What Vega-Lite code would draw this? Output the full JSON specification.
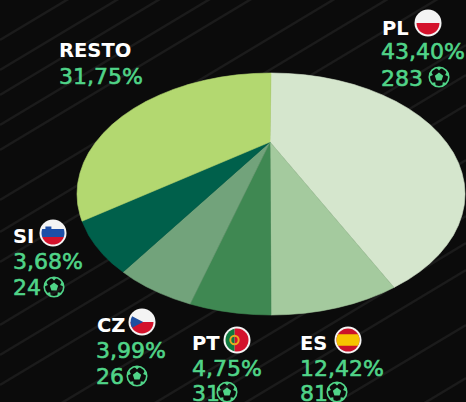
{
"$schema":"https://vega.github.io/schema/vega-lite/v6.json",
"width":466,"height":402,"padding":0,"autosize":"none",
"background":"#0b0b0b",
"config":{"view":{"stroke":null}},
"datasets":{
"streaks":[
{"x":0,"y":40,"x2":120,"y2":-32},{"x":0,"y":70,"x2":200,"y2":-50},{"x":0,"y":95,"x2":300,"y2":-85},{"x":0,"y":125,"x2":380,"y2":-103},{"x":0,"y":150,"x2":466,"y2":-130},{"x":0,"y":200,"x2":466,"y2":-80},{"x":0,"y":232,"x2":466,"y2":-48},{"x":0,"y":262,"x2":466,"y2":-18},{"x":0,"y":325,"x2":466,"y2":45},{"x":0,"y":355,"x2":466,"y2":75},{"x":0,"y":385,"x2":466,"y2":105},{"x":0,"y":440,"x2":466,"y2":160},{"x":60,"y":460,"x2":466,"y2":216},{"x":105,"y":460,"x2":466,"y2":243},{"x":150,"y":460,"x2":466,"y2":270},{"x":240,"y":460,"x2":466,"y2":325},{"x":330,"y":460,"x2":466,"y2":378}
],
"slices":[
{"slice":"PL","o":0,"x":270,"y":142},{"slice":"PL","o":1,"x":271,"y":73},{"slice":"PL","o":1.5,"x":287.9,"y":73.5},{"slice":"PL","o":2,"x":304.7,"y":74.8},{"slice":"PL","o":2.5,"x":321.2,"y":77.1},{"slice":"PL","o":3,"x":337.4,"y":80.3},{"slice":"PL","o":3.5,"x":353,"y":84.3},{"slice":"PL","o":4,"x":368,"y":89.2},{"slice":"PL","o":4.5,"x":382.3,"y":94.9},{"slice":"PL","o":5,"x":395.7,"y":101.3},{"slice":"PL","o":5.5,"x":408.2,"y":108.4},{"slice":"PL","o":6,"x":419.6,"y":116.2},{"slice":"PL","o":6.5,"x":429.9,"y":124.6},{"slice":"PL","o":7,"x":439,"y":133.5},{"slice":"PL","o":7.5,"x":446.8,"y":142.9},{"slice":"PL","o":8,"x":453.3,"y":152.6},{"slice":"PL","o":8.5,"x":458.4,"y":162.7},{"slice":"PL","o":9,"x":462,"y":173},{"slice":"PL","o":9.5,"x":464.3,"y":183.4},{"slice":"PL","o":10,"x":465,"y":194},{"slice":"PL","o":10.5,"x":464.3,"y":204.6},{"slice":"PL","o":11,"x":462,"y":215},{"slice":"PL","o":11.5,"x":458.4,"y":225.3},{"slice":"PL","o":12,"x":453.3,"y":235.4},{"slice":"PL","o":12.5,"x":446.8,"y":245.1},{"slice":"PL","o":13,"x":439,"y":254.5},{"slice":"PL","o":13.5,"x":429.9,"y":263.4},{"slice":"PL","o":14,"x":419.6,"y":271.8},{"slice":"PL","o":14.5,"x":408.2,"y":279.6},{"slice":"PL","o":15,"x":394,"y":287.4},{"slice":"PL","o":16,"x":270,"y":142},
{"slice":"ES","o":0,"x":270,"y":142},{"slice":"ES","o":1,"x":394,"y":287.4},{"slice":"ES","o":1.5,"x":382.3,"y":293.1},{"slice":"ES","o":2,"x":368,"y":298.8},{"slice":"ES","o":2.5,"x":353,"y":303.7},{"slice":"ES","o":3,"x":337.4,"y":307.7},{"slice":"ES","o":3.5,"x":321.2,"y":310.9},{"slice":"ES","o":4,"x":304.7,"y":313.2},{"slice":"ES","o":4.5,"x":287.9,"y":314.5},{"slice":"ES","o":5,"x":271,"y":315},{"slice":"ES","o":6,"x":270,"y":142},
{"slice":"PT","o":0,"x":270,"y":142},{"slice":"PT","o":1,"x":271,"y":315},{"slice":"PT","o":1.5,"x":254.1,"y":314.5},{"slice":"PT","o":2,"x":237.3,"y":313.2},{"slice":"PT","o":2.5,"x":220.8,"y":310.9},{"slice":"PT","o":3,"x":204.6,"y":307.7},{"slice":"PT","o":4,"x":190,"y":304},{"slice":"PT","o":5,"x":270,"y":142},
{"slice":"CZ","o":0,"x":270,"y":142},{"slice":"CZ","o":1,"x":190,"y":304},{"slice":"CZ","o":2,"x":174,"y":298.8},{"slice":"CZ","o":2.5,"x":159.7,"y":293.1},{"slice":"CZ","o":3,"x":146.3,"y":286.7},{"slice":"CZ","o":3.5,"x":133.8,"y":279.6},{"slice":"CZ","o":4,"x":123,"y":272},{"slice":"CZ","o":5,"x":270,"y":142},
{"slice":"SI","o":0,"x":270,"y":142},{"slice":"SI","o":1,"x":123,"y":272},{"slice":"SI","o":1.5,"x":112.1,"y":263.4},{"slice":"SI","o":2,"x":103,"y":254.5},{"slice":"SI","o":2.5,"x":95.2,"y":245.1},{"slice":"SI","o":3,"x":88.7,"y":235.4},{"slice":"SI","o":4,"x":82,"y":221.2},{"slice":"SI","o":5,"x":270,"y":142},
{"slice":"RESTO","o":0,"x":270,"y":142},{"slice":"RESTO","o":1,"x":82,"y":221.2},{"slice":"RESTO","o":2,"x":80,"y":215},{"slice":"RESTO","o":2.5,"x":77.7,"y":204.6},{"slice":"RESTO","o":3,"x":77,"y":194},{"slice":"RESTO","o":3.5,"x":77.7,"y":183.4},{"slice":"RESTO","o":4,"x":80,"y":173},{"slice":"RESTO","o":4.5,"x":83.6,"y":162.7},{"slice":"RESTO","o":5,"x":88.7,"y":152.6},{"slice":"RESTO","o":5.5,"x":95.2,"y":142.9},{"slice":"RESTO","o":6,"x":103,"y":133.5},{"slice":"RESTO","o":6.5,"x":112.1,"y":124.6},{"slice":"RESTO","o":7,"x":122.4,"y":116.2},{"slice":"RESTO","o":7.5,"x":133.8,"y":108.4},{"slice":"RESTO","o":8,"x":146.3,"y":101.3},{"slice":"RESTO","o":8.5,"x":159.7,"y":94.9},{"slice":"RESTO","o":9,"x":174,"y":89.2},{"slice":"RESTO","o":9.5,"x":189,"y":84.3},{"slice":"RESTO","o":10,"x":204.6,"y":80.3},{"slice":"RESTO","o":10.5,"x":220.8,"y":77.1},{"slice":"RESTO","o":11,"x":237.3,"y":74.8},{"slice":"RESTO","o":11.5,"x":254.1,"y":73.5},{"slice":"RESTO","o":12,"x":271,"y":73},{"slice":"RESTO","o":13,"x":270,"y":142}
],
"names":[
{"t":"PL","x":382,"y":35},{"t":"RESTO","x":59,"y":57},{"t":"SI","x":13,"y":243},{"t":"CZ","x":97,"y":332},{"t":"PT","x":192,"y":350},{"t":"ES","x":300,"y":350}
],
"values":[
{"t":"43,40%","x":381,"y":59},{"t":"283","x":381,"y":86},
{"t":"31,75%","x":59,"y":84},
{"t":"3,68%","x":13,"y":269},{"t":"24","x":13,"y":295},
{"t":"3,99%","x":96,"y":358},{"t":"26","x":96,"y":384},
{"t":"4,75%","x":192,"y":376},{"t":"31","x":192,"y":401},
{"t":"12,42%","x":300,"y":376},{"t":"81","x":300,"y":401}
],
"flags":[
{"c":"PL","x":428,"y":23},{"c":"SI","x":53,"y":233},{"c":"CZ","x":142,"y":322},{"c":"PT","x":237,"y":340},{"c":"ES","x":348,"y":340}
],
"balls":[
{"x":439,"y":77},{"x":54,"y":287},{"x":137,"y":376},{"x":227,"y":392},{"x":337,"y":392}
]
},
"encoding":{
"x":{"field":"x","type":"quantitative","scale":{"domain":[0,466],"nice":false,"zero":false},"axis":null},
"y":{"field":"y","type":"quantitative","scale":{"domain":[402,0],"nice":false,"zero":false},"axis":null}
},
"layer":[
{"data":{"name":"streaks"},"mark":{"type":"rule","color":"#1b1b1b","strokeWidth":2.5,"clip":true},
 "encoding":{"x2":{"field":"x2"},"y2":{"field":"y2"}}},
{"data":{"name":"slices"},"mark":{"type":"line","strokeWidth":0.6},
 "encoding":{
  "order":{"field":"o","type":"quantitative"},
  "color":{"field":"slice","type":"nominal","legend":null,"scale":{"domain":["PL","ES","PT","CZ","SI","RESTO"],"range":["#d5e6cd","#a4ca9e","#3f8852","#72a37b","#00604b","#b3d870"]}},
  "fill":{"field":"slice","type":"nominal","legend":null,"scale":{"domain":["PL","ES","PT","CZ","SI","RESTO"],"range":["#d5e6cd","#a4ca9e","#3f8852","#72a37b","#00604b","#b3d870"]}}
 }},
{"data":{"name":"names"},"mark":{"type":"text","align":"left","baseline":"alphabetic","font":"DejaVu Sans","fontWeight":"bold","fontSize":19.5,"fill":"#ffffff"},
 "encoding":{"text":{"field":"t"}}},
{"data":{"name":"values"},"mark":{"type":"text","align":"left","baseline":"alphabetic","font":"DejaVu Sans","fontSize":22,"fill":"#50d488","stroke":"#50d488","strokeWidth":0.6},
 "encoding":{"text":{"field":"t"}}},
{"data":{"name":"flags"},"mark":{"type":"point","shape":"circle","filled":true,"fill":"#f4f4f4","opacity":1,"size":729}},
{"data":{"name":"flags"},"transform":[{"filter":"datum.c=='PL'||datum.c=='CZ'"}],"mark":{"type":"point","filled":true,"fill":"#d4122c","opacity":1,"size":2116,"shape":"M-0.5,0 A0.5,0.5 0 0 0 0.5,0 Z"}},
{"data":{"name":"flags"},"transform":[{"filter":"datum.c=='CZ'"}],"mark":{"type":"point","filled":true,"fill":"#1f4fa0","opacity":1,"size":2116,"shape":"M-0.43,-0.25 L0.05,0 L-0.43,0.25 A0.5,0.5 0 0 1 -0.43,-0.25 Z"}},
{"data":{"name":"flags"},"transform":[{"filter":"datum.c=='SI'"}],"mark":{"type":"point","filled":true,"fill":"#1d4fa8","opacity":1,"size":2116,"shape":"M-0.47,-0.17 L0.47,-0.17 A0.5,0.5 0 0 1 0.47,0.17 L-0.47,0.17 A0.5,0.5 0 0 1 -0.47,-0.17 Z"}},
{"data":{"name":"flags"},"transform":[{"filter":"datum.c=='SI'"}],"mark":{"type":"point","filled":true,"fill":"#d4122c","opacity":1,"size":2116,"shape":"M-0.47,0.17 L0.47,0.17 A0.5,0.5 0 0 1 -0.47,0.17 Z"}},
{"data":{"name":"flags"},"transform":[{"filter":"datum.c=='SI'"}],"mark":{"type":"point","filled":true,"fill":"#1d4fa8","opacity":1,"size":2116,"shape":"M-0.33,-0.28 L-0.07,-0.28 L-0.07,-0.1 L-0.2,0.03 L-0.33,-0.1 Z"}},
{"data":{"name":"flags"},"transform":[{"filter":"datum.c=='PT'"}],"mark":{"type":"point","filled":true,"fill":"#0f7a3e","opacity":1,"size":2116,"shape":"M-0.1,-0.49 L-0.1,0.49 A0.5,0.5 0 0 1 -0.1,-0.49 Z"}},
{"data":{"name":"flags"},"transform":[{"filter":"datum.c=='PT'"}],"mark":{"type":"point","filled":true,"fill":"#d4122c","opacity":1,"size":2116,"shape":"M-0.1,-0.49 A0.5,0.5 0 1 1 -0.1,0.49 Z"}},
{"data":{"name":"flags"},"transform":[{"filter":"datum.c=='PT'"}],"mark":{"type":"point","shape":"circle","filled":false,"stroke":"#e8a820","strokeWidth":2,"opacity":1,"size":70,"xOffset":-2.5}},
{"data":{"name":"flags"},"transform":[{"filter":"datum.c=='ES'"}],"mark":{"type":"point","shape":"circle","filled":true,"fill":"#cc1229","opacity":1,"size":529}},
{"data":{"name":"flags"},"transform":[{"filter":"datum.c=='ES'"}],"mark":{"type":"point","filled":true,"fill":"#f6c400","opacity":1,"size":2116,"shape":"M-0.433,-0.25 L0.433,-0.25 A0.5,0.5 0 0 1 0.433,0.25 L-0.433,0.25 A0.5,0.5 0 0 1 -0.433,-0.25 Z"}},
{"data":{"name":"balls"},"mark":{"type":"point","shape":"circle","filled":false,"stroke":"#50d488","strokeWidth":1.6,"opacity":1,"size":380}},
{"data":{"name":"balls"},"mark":{"type":"point","filled":true,"fill":"#50d488","opacity":1,"size":1600,"shape":"M0,-0.22 L0.209,-0.068 L0.129,0.178 L-0.129,0.178 L-0.209,-0.068 Z M-0.146,-0.478 L0.146,-0.478 L0,-0.32 Z M0.41,-0.287 L0.5,-0.009 L0.304,-0.099 Z M0.399,0.301 L0.163,0.473 L0.188,0.259 Z M-0.163,0.473 L-0.399,0.301 L-0.188,0.259 Z M-0.5,-0.009 L-0.41,-0.287 L-0.304,-0.099 Z"}}
]
}
